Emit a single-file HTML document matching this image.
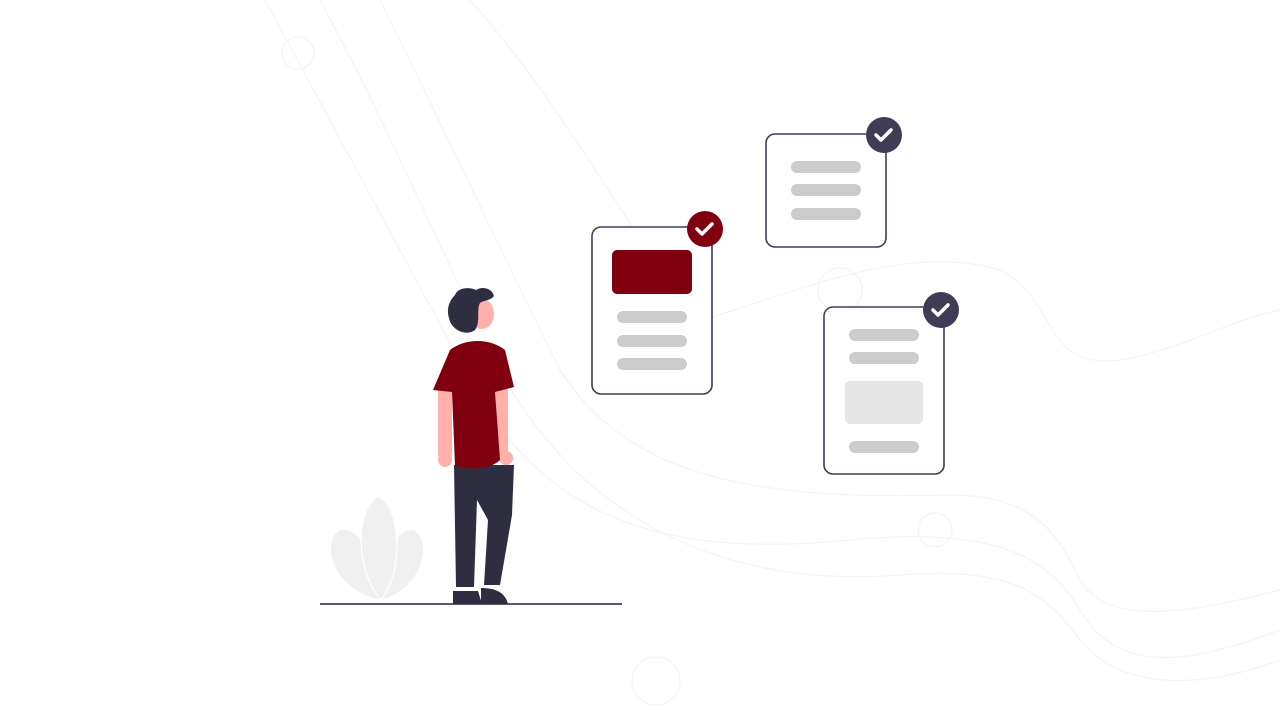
<!DOCTYPE html>
<html><head><meta charset="utf-8"><style>html,body{margin:0;padding:0;background:#fff;}svg{display:block}</style></head>
<body>
<svg width="1280" height="722" viewBox="0 0 1280 722" xmlns="http://www.w3.org/2000/svg">
<rect width="1280" height="722" fill="#fff"/>
<g fill="none" stroke="#f4f4f4" stroke-width="1.2">
<path d="M265 0 C330 120 400 250 470 380 C540 510 650 560 850 540 C1000 525 1050 560 1080 610 C1120 680 1200 660 1280 630"/>
<path d="M320 0 C390 130 440 250 500 370 C570 500 700 590 900 575 C1020 565 1050 600 1080 640 C1120 690 1200 690 1280 660"/>
<path d="M380 0 C440 120 500 250 560 370 C630 480 760 500 950 495 C1040 495 1060 540 1080 580 C1110 630 1200 610 1280 590"/>
<path d="M470 0 C560 100 620 220 700 320 C780 300 900 240 1000 270 C1060 300 1040 370 1120 360 C1180 350 1230 320 1280 310"/>
<circle cx="298" cy="53" r="16"/>
<circle cx="935" cy="530" r="17"/>
<circle cx="656" cy="681" r="24"/>
<circle cx="840" cy="290" r="22"/>
</g>
<!-- plant -->
<g fill="#f0f0f0" stroke="#fff" stroke-width="1.2">
<path d="M380 600 C330 590 320 540 340 530 C360 525 380 560 380 600Z"/>
<path d="M382 600 C420 590 435 545 415 530 C395 525 382 560 382 600Z"/>
<path d="M381 600 C355 570 355 510 378 496 C400 505 405 570 381 600Z"/>
</g>
<line x1="320" y1="604" x2="622" y2="604" stroke="#5a5570" stroke-width="2"/>
<!-- person -->
<path d="M454 465 L514 465 L512 515 L500 585 L484 585 L488 520 L477 500 L474 587 L456 587 Z" fill="#2f2e41"/>
<path d="M453 591 L478 591 L482 604 L453 604Z" fill="#2f2e41"/>
<path d="M481 588 C495 588 505 592 508 604 L481 604Z" fill="#2f2e41"/>
<rect x="438" y="385" width="14" height="75" rx="6" fill="#ffb0ab"/>
<rect x="494" y="385" width="14" height="75" rx="6" fill="#ffb0ab"/>
<circle cx="445" cy="460" r="7" fill="#ffb0ab"/>
<circle cx="506" cy="458" r="7" fill="#ffb0ab"/>
<path d="M450 350 C465 338 490 338 505 350 L514 387 L495 392 L500 460 C490 470 470 470 455 466 L452 392 L433 390 Z" fill="#800010"/>
<ellipse cx="482" cy="314" rx="12" ry="15" fill="#ffb0ab"/>
<path d="M455 295 C458 287 470 287 476 290 C482 286 492 288 494 296 C490 301 484 300 480 303 C476 310 481 322 475 330 C468 336 452 332 449 318 C446 308 450 300 455 295Z" fill="#2f2e41"/>
<!-- card 1 -->
<rect x="592" y="227" width="120" height="167" rx="9" fill="#fff" stroke="#3f3d56" stroke-width="1.6"/>
<rect x="612" y="250" width="80" height="44" rx="5" fill="#800010"/>
<g fill="#ccc"><rect x="617" y="311" width="70" height="12" rx="6"/><rect x="617" y="335" width="70" height="12" rx="6"/><rect x="617" y="358" width="70" height="12" rx="6"/></g>
<circle cx="705" cy="229" r="18" fill="#800010"/>
<path d="M697 229 l5 5 l10 -10" stroke="#fff" stroke-width="3.5" fill="none" stroke-linecap="round" stroke-linejoin="round"/>
<!-- card 2 -->
<rect x="766" y="134" width="120" height="113" rx="9" fill="#fff" stroke="#3f3d56" stroke-width="1.6"/>
<g fill="#ccc"><rect x="791" y="161" width="70" height="12" rx="6"/><rect x="791" y="184" width="70" height="12" rx="6"/><rect x="791" y="208" width="70" height="12" rx="6"/></g>
<circle cx="884" cy="135" r="18" fill="#3f3d56"/>
<path d="M876 135 l5 5 l10 -10" stroke="#fff" stroke-width="3.5" fill="none" stroke-linecap="round" stroke-linejoin="round"/>
<!-- card 3 -->
<rect x="824" y="307" width="120" height="167" rx="9" fill="#fff" stroke="#3f3d56" stroke-width="1.6"/>
<g fill="#ccc"><rect x="849" y="329" width="70" height="12" rx="6"/><rect x="849" y="352" width="70" height="12" rx="6"/><rect x="849" y="441" width="70" height="12" rx="6"/></g>
<rect x="845" y="381" width="78" height="43" rx="5" fill="#e6e6e6"/>
<circle cx="941" cy="310" r="18" fill="#3f3d56"/>
<path d="M933 310 l5 5 l10 -10" stroke="#fff" stroke-width="3.5" fill="none" stroke-linecap="round" stroke-linejoin="round"/>
</svg>
</body></html>
